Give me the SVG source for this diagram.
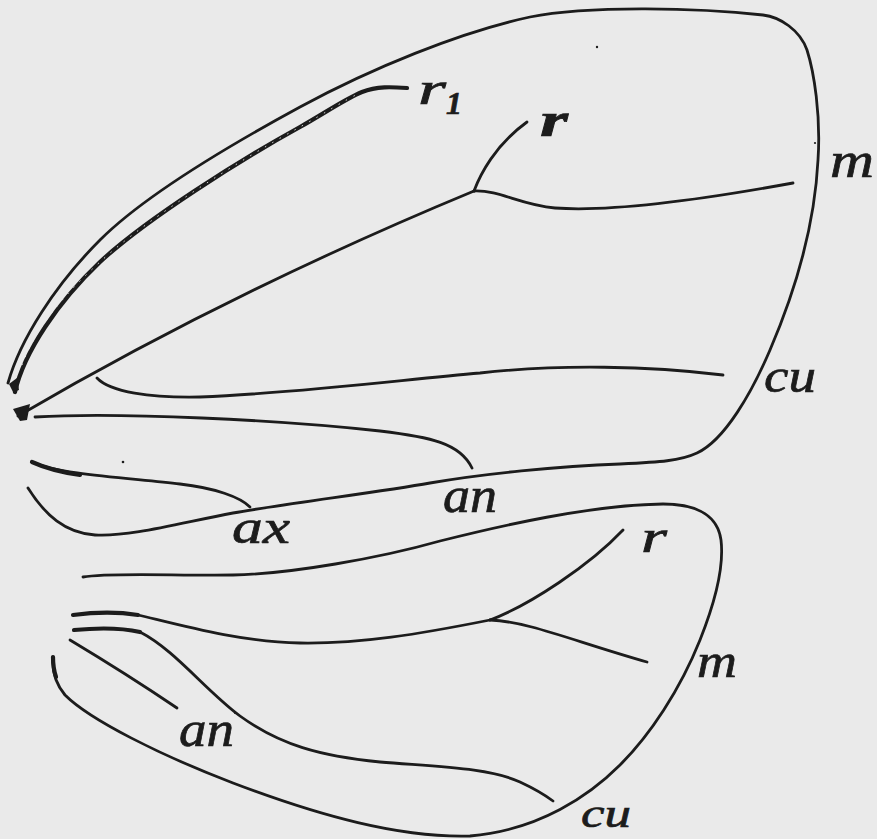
<svg xmlns="http://www.w3.org/2000/svg" width="877" height="839" viewBox="0 0 877 839">
  <style>
    .vein { fill: none; stroke: #1c1c1c; stroke-width: 2.8; stroke-linecap: round; stroke-linejoin: round; }
    .thick { stroke-width: 4.2; }
    .speck { fill: none; stroke: #e6e6e6; stroke-width: 0.9; stroke-dasharray: 1.5 7; }
    .lbl { font-family: "Liberation Serif", "DejaVu Serif", serif; font-style: italic; fill: #1c1c1c; stroke: #1c1c1c; stroke-width: 0.7; }
    .dot { fill: #1c1c1c; }
  </style>
  <rect width="877" height="839" fill="#eaeaea"/>

  <!-- Fore wing -->
  <g id="forewing">
    <!-- outline: costa, apex, outer margin, inner margin -->
    <path class="vein" d="M8,383 C20,340 55,285 100,240 C145,195 230,145 300,107 C370,69 460,32 530,17 C590,5 700,8 763,15 C780,17 800,30 807,50 C814,72 821,115 818,160 C815,220 800,280 770,350 C752,392 725,440 697,453 C680,461 660,462 620,464 C560,466 480,474 430,483 C380,492 290,503 233,513 C180,523 130,537 95,535 C65,533 45,515 28,488"/>
    <!-- subcosta / r1 -->
    <path class="vein thick" d="M15,392 C24,352 58,302 100,262 C145,220 240,160 300,127 C325,113 345,99 362,92 C377,86 392,87 407,88"/>
    <path class="speck" d="M22,365 C35,330 62,296 100,262 C145,220 240,160 300,127 C325,113 345,100 358,94"/>
    <!-- radial stem and its fork -->
    <path class="vein" d="M18,416 Q230,292 474,191"/>
    <path class="vein" d="M474,191 C480,175 495,145 527,122"/>
    <path class="vein" d="M474,191 C500,190 520,205 555,208 C610,212 700,200 793,183"/>
    <!-- cubital vein -->
    <path class="vein" d="M97,378 C110,392 150,398 200,397 C300,393 400,380 480,373 C560,364 650,366 723,375"/>
    <!-- anal vein -->
    <path class="vein" d="M35,417 C120,412 280,420 380,431 C430,437 460,443 472,468"/>
    <!-- axillary vein -->
    <path class="vein" d="M32,462 C60,475 130,478 180,484 C215,488 240,497 250,507"/>
    <path class="vein thick" d="M32,462 C45,468 60,472 80,475"/>
    <!-- base sclerite -->
    <path class="dot" d="M13,409 L30,404 L27,420 L20,421 Z"/>
    <path class="dot" d="M9,384 L17,378 L19,390 L13,392 Z"/>
  </g>

  <!-- Hind wing -->
  <g id="hindwing">
    <!-- outline -->
    <path class="vein" d="M83,577 C110,572 180,576 233,575 C290,574 380,558 440,541 C500,526 590,505 663,504 C700,504 718,518 721,540 C724,565 716,600 700,640 C680,690 650,735 620,765 C590,795 540,830 470,836 C400,838 320,816 233,783 C160,755 90,720 65,695 C55,683 52,670 53,657"/>
    <path class="vein thick" d="M56,677 C53,668 53,662 53,657"/>
    <!-- subcosta + radius with fork -->
    <path class="vein thick" d="M73,615 C95,612 120,612 138,615"/>
    <path class="vein" d="M138,615 C180,625 240,642 300,643 C360,644 420,634 490,620"/>
    <path class="vein" d="M490,620 C530,605 590,565 623,530"/>
    <path class="vein" d="M490,620 C530,622 570,640 647,662"/>
    <!-- cubital vein -->
    <path class="vein thick" d="M74,630 C95,628 118,627 140,632"/>
    <path class="vein" d="M140,632 C175,650 205,690 240,716 C280,745 320,756 380,762 C440,767 490,768 520,782 C535,789 545,795 553,801"/>
    <!-- anal vein -->
    <path class="vein" d="M70,640 C100,658 140,683 177,708"/>
  </g>

  <!-- stray specks of ink -->
  <g id="specks">
    <circle class="dot" cx="123" cy="462" r="1.3"/>
    <circle class="dot" cx="597" cy="47" r="1.2"/>
    <circle class="dot" cx="815" cy="143" r="1.1"/>
    <circle class="dot" cx="235" cy="713" r="1"/>
  </g>

  <!-- vein lettering -->
  <g id="labels">
    <text class="lbl" x="418" y="104" font-size="46" textLength="28" lengthAdjust="spacingAndGlyphs">r</text>
    <text class="lbl" x="446" y="114" font-size="32" font-weight="bold">1</text>
    <text class="lbl" x="540" y="136" font-size="48" font-weight="bold" textLength="28" lengthAdjust="spacingAndGlyphs">r</text>
    <text class="lbl" x="830" y="177" font-size="50" textLength="44" lengthAdjust="spacingAndGlyphs">m</text>
    <text class="lbl" x="764" y="392" font-size="48" textLength="52" lengthAdjust="spacingAndGlyphs">cu</text>
    <text class="lbl" x="232" y="543" font-size="48" textLength="58" lengthAdjust="spacingAndGlyphs">ax</text>
    <text class="lbl" x="443" y="512" font-size="50" textLength="54" lengthAdjust="spacingAndGlyphs">an</text>
    <text class="lbl" x="641" y="552" font-size="46" textLength="26" lengthAdjust="spacingAndGlyphs">r</text>
    <text class="lbl" x="697" y="677" font-size="48" textLength="40" lengthAdjust="spacingAndGlyphs">m</text>
    <text class="lbl" x="581" y="827" font-size="40" textLength="50" lengthAdjust="spacingAndGlyphs">cu</text>
    <text class="lbl" x="179" y="746" font-size="50" textLength="55" lengthAdjust="spacingAndGlyphs">an</text>
  </g>
</svg>
